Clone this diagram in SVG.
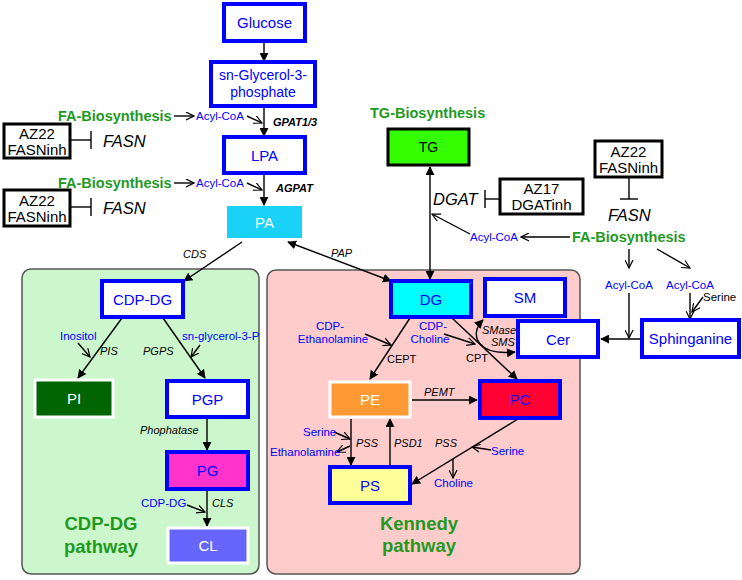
<svg xmlns="http://www.w3.org/2000/svg" width="742" height="580" viewBox="0 0 742 580">
<defs>
<marker id="arr" viewBox="0 0 10 10" refX="9" refY="5" markerWidth="9" markerHeight="9" markerUnits="userSpaceOnUse" orient="auto-start-reverse">
<path d="M0,0 L10,5 L0,10 z" fill="#000"/>
</marker>
<marker id="open" viewBox="0 0 10 10" refX="9" refY="5" markerWidth="9" markerHeight="9" markerUnits="userSpaceOnUse" orient="auto-start-reverse">
<path d="M0,0.5 L9,5 L0,9.5" fill="none" stroke="#000" stroke-width="1.3"/>
</marker>
<style>
text{font-family:"Liberation Sans",Arial,sans-serif;}
.bn{fill:#fff;stroke:#0000ff;stroke-width:4;}
.wb{stroke:#fff;stroke-width:3;}
.kb{stroke:#000;stroke-width:3;fill:#fff;}
.nt{font-size:15px;fill:#0000ff;text-anchor:middle;}
.wt{font-size:15px;fill:#fff;text-anchor:middle;}
.kt{font-size:15px;fill:#000;text-anchor:middle;}
.gr{font-size:14.5px;font-weight:bold;fill:#1f991f;}
.pw{font-size:18.5px;font-weight:bold;fill:#1f991f;}
.bl{font-size:11.5px;fill:#0000ff;}
.en{font-size:11px;font-style:italic;font-weight:bold;fill:#000;}
.ei{font-size:11px;font-style:italic;fill:#000;}
.er{font-size:11px;fill:#000;}
.big{font-size:16.5px;font-style:italic;fill:#000;}
.ln{fill:none;stroke:#000;stroke-width:1.4;}
.a{marker-end:url(#arr);}
.o{marker-end:url(#open);}
</style>
</defs>
<rect width="742" height="580" fill="#fff"/>
<g id="panels">
<rect x="22" y="269" width="237" height="305" rx="9" fill="#ccf7cc" stroke="#555" stroke-width="1.5"/>
<rect x="267" y="270" width="313" height="304" rx="9" fill="#ffcccc" stroke="#555" stroke-width="1.5"/>
</g>
<g id="connectors">
<line class="ln a" x1="264" y1="42" x2="264" y2="61"/>
<line class="ln a" x1="264" y1="107" x2="264" y2="136"/>
<line class="ln a" x1="264" y1="174" x2="264" y2="205"/>
<line class="ln o" x1="174" y1="116" x2="194" y2="116"/>
<line class="ln o" x1="247" y1="116" x2="262" y2="123"/>
<line class="ln o" x1="174" y1="183" x2="194" y2="183"/>
<line class="ln o" x1="247" y1="183" x2="262" y2="190"/>
<line class="ln" x1="70" y1="140" x2="91" y2="140"/>
<line class="ln" x1="91" y1="131" x2="91" y2="149" stroke-width="2"/>
<line class="ln" x1="70" y1="207" x2="91" y2="207"/>
<line class="ln" x1="91" y1="198" x2="91" y2="216" stroke-width="2"/>
<line class="ln a" x1="242" y1="242" x2="184" y2="281"/>
<line class="ln a" x1="391" y1="281" x2="288" y2="242" style="marker-start:url(#arr)"/>
<line class="ln a" x1="430" y1="279" x2="430" y2="167" style="marker-start:url(#arr)"/>
<line class="ln o" x1="470" y1="234" x2="432" y2="214"/>
<line class="ln" x1="485" y1="199" x2="500" y2="199"/>
<line class="ln" x1="485" y1="190" x2="485" y2="208" stroke-width="2"/>
<line class="ln" x1="629" y1="177" x2="629" y2="199"/>
<line class="ln" x1="620" y1="199" x2="638" y2="199" stroke-width="2"/>
<line class="ln o" x1="570" y1="237" x2="521" y2="237"/>
<line class="ln o" x1="629" y1="249" x2="629" y2="268"/>
<line class="ln o" x1="657" y1="249" x2="690" y2="268"/>
<line class="ln o" x1="629" y1="293" x2="629" y2="338"/>
<line class="ln o" x1="690" y1="293" x2="690" y2="319"/>
<line class="ln o" x1="703" y1="297" x2="692" y2="312"/>
<line class="ln a" x1="642" y1="339" x2="601" y2="339"/>
<line class="ln a" x1="122" y1="318" x2="78" y2="378"/>
<line class="ln a" x1="163" y1="318" x2="205" y2="378"/>
<line class="ln o" x1="78" y1="343" x2="90" y2="357"/>
<line class="ln o" x1="200" y1="345" x2="191" y2="357"/>
<line class="ln a" x1="207" y1="419" x2="207" y2="450"/>
<line class="ln a" x1="207" y1="490" x2="207" y2="526"/>
<line class="ln o" x1="187" y1="505" x2="205" y2="512"/>
<line class="ln a" x1="410" y1="318" x2="370" y2="379"/>
<line class="ln o" x1="365" y1="334" x2="391" y2="345"/>
<line class="ln a" x1="452" y1="318" x2="517" y2="379"/>
<line class="ln o" x1="444" y1="334" x2="475" y2="344"/>
<path class="ln" d="M483,320 C468,335 478,356 515,352" style="marker-start:url(#arr);marker-end:url(#arr)"/>
<line class="ln a" x1="412" y1="400" x2="477" y2="400"/>
<line class="ln a" x1="351" y1="419" x2="351" y2="465"/>
<line class="ln a" x1="390" y1="466" x2="390" y2="419"/>
<line class="ln o" x1="334" y1="432" x2="350" y2="439"/>
<line class="ln o" x1="350" y1="446" x2="337" y2="452"/>
<line class="ln a" x1="518" y1="419" x2="412" y2="484"/>
<line class="ln o" x1="491" y1="450" x2="472" y2="447"/>
<line class="ln o" x1="453" y1="459" x2="453" y2="478"/>
</g>
<g id="glucose"><rect class="bn" x="224" y="4" width="81" height="37"/><text class="nt" x="264.5" y="28" font-size="14">Glucose</text></g>
<g id="g3p"><rect class="bn" x="211" y="62" width="104" height="44"/><text class="nt" x="263" y="80" style="font-size:14px">sn-Glycerol-3-</text><text class="nt" x="263" y="97" style="font-size:14px">phosphate</text></g>
<g id="lpa"><rect class="bn" x="224" y="137" width="81" height="36"/><text class="nt" x="264.5" y="161">LPA</text></g>
<g id="pa"><rect x="227" y="206" width="75" height="32" fill="#1ad2f7"/><text class="wt" x="264.5" y="228">PA</text></g>
<g id="fa1"><text class="gr" x="58" y="121">FA-Biosynthesis</text><text class="bl" x="196" y="120">Acyl-CoA</text><text class="en" x="273" y="126">GPAT1/3</text></g>
<g id="fa2"><text class="gr" x="58" y="188">FA-Biosynthesis</text><text class="bl" x="196" y="187">Acyl-CoA</text><text class="en" x="276" y="192">AGPAT</text></g>
<g id="inh1"><rect class="kb" x="4" y="124" width="66" height="34"/><text class="kt" x="37" y="139">AZ22</text><text class="kt" x="37" y="155">FASNinh</text><text class="big" x="103" y="147">FASN</text></g>
<g id="inh2"><rect class="kb" x="4" y="190" width="66" height="36"/><text class="kt" x="37" y="206">AZ22</text><text class="kt" x="37" y="222">FASNinh</text><text class="big" x="103" y="214">FASN</text></g>
<g id="cds"><text class="ei" x="183" y="258">CDS</text><text class="ei" x="331" y="257">PAP</text></g>
<g id="tg"><text class="gr" x="370" y="118">TG-Biosynthesis</text><rect class="kb" x="388" y="129" width="81" height="36" fill="#33ff00" style="fill:#33ff00"/><text class="kt" x="428.5" y="152" style="font-size:14px">TG</text></g>
<g id="dgat"><text class="big" x="433" y="205">DGAT</text><rect class="kb" x="500" y="179" width="83" height="35"/><text class="kt" x="541.5" y="194">AZ17</text><text class="kt" x="541.5" y="210">DGATinh</text></g>
<g id="inh3"><rect class="kb" x="595" y="141" width="67" height="36"/><text class="kt" x="628.5" y="157">AZ22</text><text class="kt" x="628.5" y="173">FASNinh</text><text class="big" x="608" y="221">FASN</text></g>
<g id="fa3"><text class="gr" x="572" y="242">FA-Biosynthesis</text><text class="bl" x="470" y="241">Acyl-CoA</text><text class="bl" x="605" y="289">Acyl-CoA</text><text class="bl" x="666" y="289">Acyl-CoA</text><text class="er" x="703" y="301" style="font-size:11.5px">Serine</text></g>
<g id="sphinganine"><rect class="bn" x="642" y="320" width="97" height="37"/><text class="nt" x="690.5" y="344">Sphinganine</text></g>
<g id="cer"><rect class="bn" x="518" y="321" width="80" height="36"/><text class="nt" x="558" y="345">Cer</text></g>
<g id="sm"><rect class="bn" x="485" y="279" width="80" height="37"/><text class="nt" x="525" y="303">SM</text></g>
<g id="dg"><rect class="bn" x="391" y="281" width="80" height="36" style="fill:#00ffff"/><text class="nt" x="431" y="305">DG</text></g>
<g id="cdpdg"><rect class="bn" x="102" y="281" width="81" height="36"/><text class="nt" x="142.5" y="305">CDP-DG</text></g>
<g id="cdplabels"><text class="bl" x="60" y="340">Inositol</text><text class="ei" x="100" y="355">PIS</text><text class="ei" x="143" y="355">PGPS</text><text class="bl" x="182" y="340">sn-glycerol-3-P</text><text class="ei" x="140" y="434">Phophatase</text><text class="bl" x="141" y="507">CDP-DG</text><text class="ei" x="212" y="507">CLS</text></g>
<g id="pi"><rect class="wb" x="35" y="380" width="78" height="37" fill="#006400"/><text class="wt" x="74" y="404">PI</text></g>
<g id="pgp"><rect class="bn" x="167" y="381" width="81" height="36"/><text class="nt" x="207.5" y="405">PGP</text></g>
<g id="pg"><rect class="bn" x="167" y="452" width="81" height="37" style="fill:#ff33cc"/><text class="nt" x="207.5" y="476">PG</text></g>
<g id="cl"><rect class="wb" x="168" y="528" width="80" height="35" fill="#6666ff"/><text class="wt" x="208" y="551">CL</text></g>
<g id="cdppath"><text class="pw" x="101" y="530" text-anchor="middle">CDP-DG</text><text class="pw" x="101" y="553" text-anchor="middle">pathway</text></g>
<g id="kennedylabels">
<text class="bl" x="330" y="330" text-anchor="middle">CDP-</text><text class="bl" x="333" y="343" text-anchor="middle">Ethanolamine</text>
<text class="er" x="387" y="363">CEPT</text>
<text class="bl" x="433" y="330" text-anchor="middle">CDP-</text><text class="bl" x="430" y="343" text-anchor="middle">Choline</text>
<text class="er" x="466" y="362">CPT</text>
<text class="ei" x="482" y="334">SMase</text><text class="ei" x="491" y="346">SMS</text>
<text class="ei" x="424" y="396">PEMT</text>
<text class="bl" x="303" y="436">Serine</text><text class="bl" x="270" y="456">Ethanolamine</text>
<text class="ei" x="356" y="447">PSS</text><text class="ei" x="394" y="447">PSD1</text><text class="ei" x="435" y="447">PSS</text>
<text class="bl" x="491" y="455">Serine</text><text class="bl" x="434" y="487">Choline</text>
</g>
<g id="pe"><rect class="wb" x="330" y="382" width="80" height="35" fill="#ff9933"/><text class="wt" x="370" y="405">PE</text></g>
<g id="pc"><rect class="bn" x="480" y="381" width="80" height="37" style="fill:#ff0033"/><text class="nt" x="520" y="405">PC</text></g>
<g id="ps"><rect class="bn" x="330" y="467" width="80" height="36" style="fill:#ffff99"/><text class="nt" x="370" y="491">PS</text></g>
<g id="kpath"><text class="pw" x="419" y="530" text-anchor="middle">Kennedy</text><text class="pw" x="419" y="552" text-anchor="middle">pathway</text></g>
</svg>
